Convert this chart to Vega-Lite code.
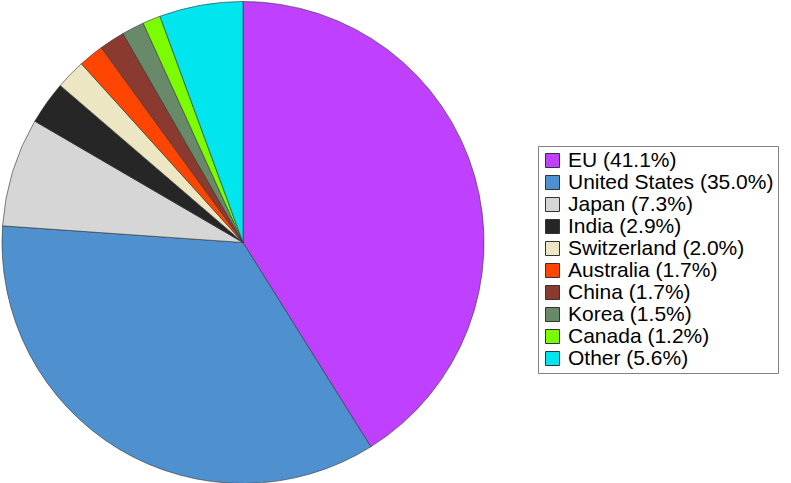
{
  "$schema": "https://vega.github.io/schema/vega-lite/v6.json",
  "width": 484,
  "height": 483,
  "padding": 0,
  "background": "white",
  "view": {"stroke": null},
  "data": {
    "values": [
      {"label": "EU (41.1%)", "share": 41.1, "order": 1},
      {"label": "United States (35.0%)", "share": 35.0, "order": 2},
      {"label": "Japan (7.3%)", "share": 7.3, "order": 3},
      {"label": "India (2.9%)", "share": 2.9, "order": 4},
      {"label": "Switzerland (2.0%)", "share": 2.0, "order": 5},
      {"label": "Australia (1.7%)", "share": 1.7, "order": 6},
      {"label": "China (1.7%)", "share": 1.7, "order": 7},
      {"label": "Korea (1.5%)", "share": 1.5, "order": 8},
      {"label": "Canada (1.2%)", "share": 1.2, "order": 9},
      {"label": "Other (5.6%)", "share": 5.6, "order": 10}
    ]
  },
  "mark": {"type": "arc", "outerRadius": 241, "stroke": "#333333", "strokeWidth": 0.6},
  "encoding": {
    "theta": {"field": "share", "type": "quantitative", "stack": true},
    "order": {"field": "order", "type": "quantitative", "sort": "ascending"},
    "color": {
      "field": "label",
      "type": "nominal",
      "sort": ["EU (41.1%)", "United States (35.0%)", "Japan (7.3%)", "India (2.9%)", "Switzerland (2.0%)", "Australia (1.7%)", "China (1.7%)", "Korea (1.5%)", "Canada (1.2%)", "Other (5.6%)"],
      "scale": {
        "domain": ["EU (41.1%)", "United States (35.0%)", "Japan (7.3%)", "India (2.9%)", "Switzerland (2.0%)", "Australia (1.7%)", "China (1.7%)", "Korea (1.5%)", "Canada (1.2%)", "Other (5.6%)"],
        "range": ["#BF40FF", "#4F90CF", "#D6D6D6", "#262626", "#EDE6C3", "#FF4500", "#8B3A2F", "#698A69", "#7CFC00", "#00E5EE"]
      },
      "legend": {
        "title": null,
        "orient": "none",
        "legendX": 537,
        "legendY": 145,
        "padding": 4,
        "fillColor": "white",
        "strokeColor": "#808080",
        "symbolType": "square",
        "symbolSize": 196,
        "symbolStrokeColor": "#333333",
        "symbolStrokeWidth": 1,
        "symbolOpacity": 1,
        "labelFont": "Liberation Sans",
        "labelFontSize": 21,
        "labelColor": "#000000",
        "labelOffset": 5,
        "labelLimit": 400,
        "rowPadding": 0
      }
    }
  }
}
